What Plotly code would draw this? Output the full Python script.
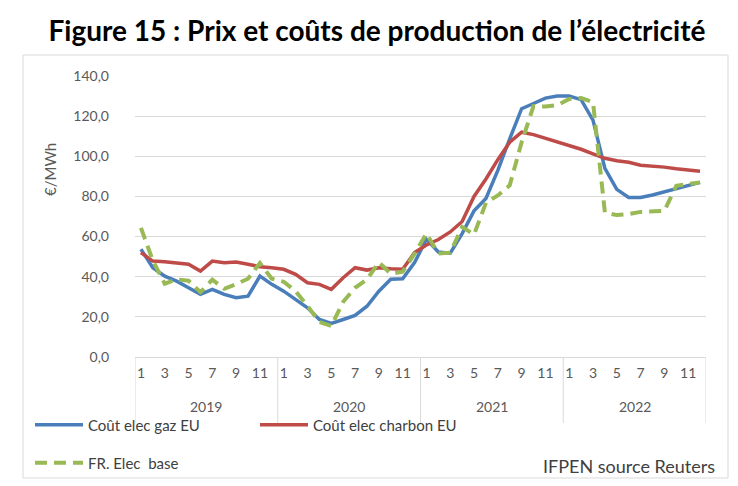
import plotly.graph_objects as go

years = ["2019", "2020", "2021", "2022"]
months = ["1", "2", "3", "4", "5", "6", "7", "8", "9", "10", "11", "12"]
month_ticks = ["1", "3", "5", "7", "9", "11"]

gaz = [53.7, 44.5, 40.3, 37.8, 34.5, 31.2, 33.7, 31.2, 29.5, 30.3, 40.3, 36.2,
       32.8, 28.7, 24.5, 18.7, 16.7, 18.7, 20.7, 25.3, 32.8, 38.7, 39.0, 47.0,
       58.7, 52.3, 51.7, 61.5, 72.8, 79.0, 93.0, 108.7, 123.7, 126.3, 129.0, 130.0,
       130.0, 128.2, 118.0, 94.0, 83.5, 79.5, 79.5, 80.7, 82.2, 83.6, 85.2, 87.0]

charbon = [52.0, 47.8, 47.5, 47.0, 46.2, 42.8, 47.8, 47.0, 47.3, 46.2, 45.0, 44.5,
           43.7, 41.2, 37.0, 36.2, 33.7, 39.5, 44.5, 43.3, 44.5, 44.0, 43.7, 52.0,
           55.8, 58.5, 62.3, 67.5, 80.0, 88.7, 98.3, 107.0, 112.0, 110.8, 109.0, 106.8,
           105.2, 103.5, 101.2, 99.0, 97.8, 97.0, 95.5, 95.2, 94.6, 93.8, 93.2, 92.5]

fr_base = [64.3, 48.0, 36.5, 38.7, 38.0, 32.3, 38.5, 34.0, 36.3, 39.0, 46.8, 39.0,
           37.5, 32.8, 25.5, 17.4, 15.5, 27.5, 34.5, 38.6, 47.2, 41.5, 42.5, 51.5,
           61.5, 51.5, 52.0, 64.8, 61.0, 76.8, 80.5, 85.5, 107.0, 125.0, 124.8, 125.5,
           128.5, 129.0, 127.0, 72.0, 70.7, 71.2, 72.3, 72.8, 72.8, 85.3, 86.2, 87.0]

y_ticks = [0, 20, 40, 60, 80, 100, 120, 140]

idx = list(range(len(years) * len(months)))
tick_idx = [yi * 12 + months.index(m) for yi in range(len(years)) for m in month_ticks]
tick_txt = [m for _ in years for m in month_ticks]

FONT = "Lato"
GREY = "#595959"

fig = go.Figure()
fig.add_trace(go.Scatter(x=idx, y=gaz, mode="lines", name="Coût elec gaz EU",
                         line=dict(color="#4A7EBB", width=3.5), legend="legend"))
fig.add_trace(go.Scatter(x=idx, y=charbon, mode="lines", name="Coût elec charbon EU",
                         line=dict(color="#BE4B48", width=3.5), legend="legend"))
fig.add_trace(go.Scatter(x=idx, y=fr_base, mode="lines", name="FR. Elec  base",
                         line=dict(color="#98B954", width=4, dash="12px,7px"), legend="legend2"))

W, H = 738, 486
L, R, T, B = 127, 40, 68, 137
pw, ph = W - L - R, H - T - B

def px(x):
    return (x - L) / pw

def py(y):
    return (H - B - y) / ph

shapes = []
# frame
shapes.append(dict(type="rect", xref="paper", yref="paper", x0=px(15), x1=px(720),
                   y0=py(470), y1=py(47), line=dict(color="#D9D9D9", width=1)))
# year dividers
for k in range(len(years) + 1):
    shapes.append(dict(type="line", xref="x", yref="paper", x0=k * 12 - 0.5, x1=k * 12 - 0.5,
                       y0=0, y1=py(415), line=dict(color="#D9D9D9", width=1)))

annotations = []
for k, yr in enumerate(years):
    annotations.append(dict(x=k * 12 + 5.5, y=py(398), xref="x", yref="paper", text=yr,
                            xanchor="center", yanchor="middle", showarrow=False,
                            font=dict(family=FONT, size=14, color=GREY)))
annotations.append(dict(x=px(42), y=py(162), xref="paper", yref="paper", text="€/MWh",
                        xanchor="center", yanchor="middle",
                        textangle=-90, showarrow=False, font=dict(family=FONT, size=15, color=GREY)))
annotations.append(dict(x=px(709), y=py(458), xref="paper", yref="paper", text="IFPEN source Reuters",
                        xanchor="right", yanchor="middle", showarrow=False,
                        font=dict(family=FONT, size=18, color="#404040")))

fig.update_layout(
    width=W, height=H,
    margin=dict(l=L, r=R, t=T, b=B),
    paper_bgcolor="white", plot_bgcolor="white",
    title=dict(text="<b>Figure 15 : Prix et coûts de production de l’électricité</b>",
               x=0.50, xref="container", xanchor="center", y=1 - 23 / H, yref="container", yanchor="middle",
               font=dict(family="Lato", size=28, color="black")),
    xaxis=dict(range=[-0.5, 47.5], tickmode="array", tickvals=tick_idx, ticktext=tick_txt,
               showgrid=False, zeroline=False, showline=True, linecolor="#D9D9D9", linewidth=1,
               ticks="", ticklabelstandoff=3, tickfont=dict(family=FONT, size=14, color=GREY)),
    yaxis=dict(range=[0, 140], tickmode="array", tickvals=y_ticks,
               ticktext=[f"{v:.1f}".replace(".", ",") for v in y_ticks],
               showgrid=True, gridcolor="#D9D9D9", gridwidth=1, zeroline=False, showline=False,
               ticks="", ticklabelstandoff=25, tickfont=dict(family=FONT, size=14, color=GREY)),
    legend=dict(orientation="h", x=px(22), y=py(417), xanchor="left", yanchor="middle",
                entrywidth=162, entrywidthmode="pixels", itemwidth=48,
                font=dict(family=FONT, size=15, color="#404040"), bgcolor="rgba(0,0,0,0)"),
    legend2=dict(orientation="h", x=px(22), y=py(455), xanchor="left", yanchor="middle",
                 itemwidth=48,
                 font=dict(family=FONT, size=15, color="#404040"), bgcolor="rgba(0,0,0,0)"),
    shapes=shapes, annotations=annotations,
)

fig.write_html("out.html")
